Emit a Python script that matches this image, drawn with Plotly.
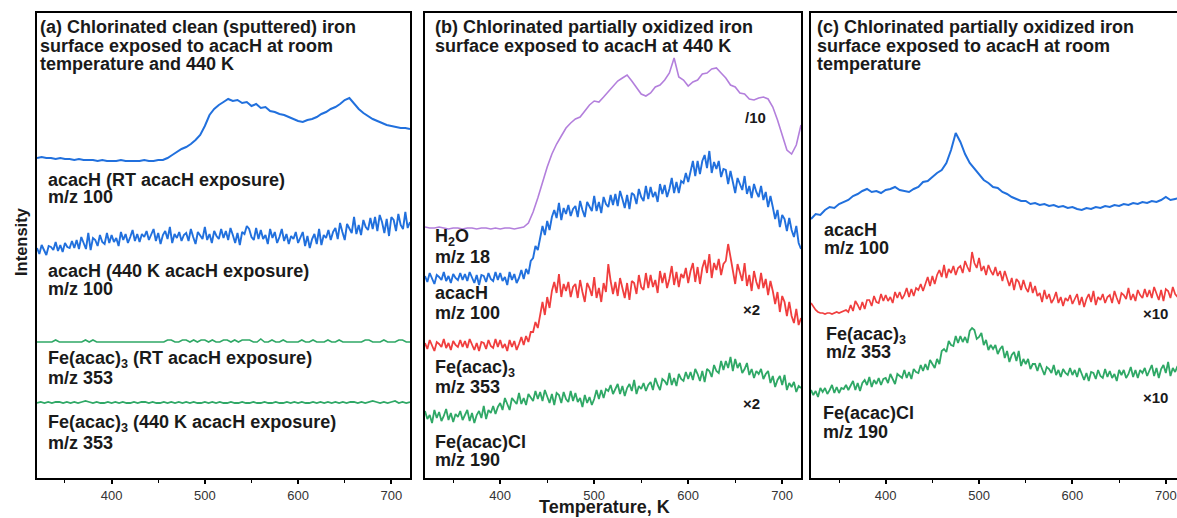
import plotly.graph_objects as go

# ---------------- data (heights above each panel's baseline, arbitrary units) ----------------
T25 = [320 + 2.5 * i for i in range(161)]   # 2.5 K grid
T4 = list(range(320, 721, 4))              # 4 K grid
T5 = list(range(320, 721, 5))              # 5 K grid

# panel (a)
a_acacH_RT = [
    320, 321, 320, 320, 319, 320, 319, 319, 318, 319,
    318, 318, 318, 317, 318, 317, 317, 317, 318, 317,
    317, 317, 317, 318, 317, 317, 318, 318, 320, 323,
    326, 329, 331, 334, 338, 343, 352, 363, 369, 373,
    376, 379, 377, 378, 375, 376, 372, 374, 370, 371,
    367, 366, 364, 363, 361, 359, 357, 356, 358, 359,
    361, 364, 366, 369, 371, 374, 378, 380, 374, 369,
    365, 362, 359, 357, 355, 353, 352, 351, 350, 350,
    349]
a_acacH_440 = [
    230, 224, 233, 228, 223, 232, 231, 228, 236, 227, 233, 226, 235, 231, 230, 237,
    230, 238, 229, 241, 235, 229, 245, 228, 240, 238, 232, 243, 236, 234, 245, 235,
    243, 236, 240, 232, 246, 238, 244, 235, 241, 248, 237, 244, 236, 244, 241, 247,
    238, 244, 249, 237, 245, 234, 243, 247, 239, 251, 235, 244, 240, 246, 237, 243,
    245, 237, 249, 241, 234, 246, 243, 239, 251, 238, 244, 235, 247, 242, 239, 249,
    240, 247, 238, 250, 243, 235, 245, 233, 246, 244, 252, 249, 241, 238, 250, 239,
    248, 239, 243, 234, 249, 240, 246, 235, 241, 249, 237, 244, 234, 242, 239, 246,
    235, 241, 246, 232, 242, 230, 239, 244, 234, 249, 233, 243, 240, 248, 238, 246,
    250, 239, 255, 246, 238, 254, 250, 245, 261, 244, 253, 243, 258, 251, 248, 260,
    249, 261, 247, 263, 256, 245, 259, 242, 261, 258, 247, 264, 253, 249, 266, 250,
    256]
a_feacac3_RT = [
    136, 136, 136, 136, 136, 138, 136, 136, 136, 136,
    136, 136, 136, 138, 136, 138, 136, 136, 136, 136,
    136, 136, 136, 136, 136, 136, 136, 136, 136, 136,
    136, 136, 136, 136, 136, 138, 138, 136, 136, 138,
    138, 136, 138, 136, 138, 138, 136, 138, 136, 136,
    138, 138, 136, 138, 136, 138, 138, 138, 136, 136,
    139, 136, 136, 138, 136, 136, 138, 136, 136, 136,
    136, 138, 136, 136, 138, 136, 136, 136, 138, 136,
    136, 138, 136, 136, 136, 136, 136, 136, 138, 138,
    136, 136, 136, 138, 136, 136, 136, 138, 138, 136,
    136]
a_feacac3_440 = [
    75, 76, 75, 76, 75, 76, 76, 75, 76, 75,
    76, 75, 76, 77, 76, 75, 76, 75, 75, 76,
    75, 76, 75, 76, 75, 75, 76, 75, 76, 76,
    75, 76, 75, 75, 76, 75, 76, 75, 76, 75,
    76, 75, 76, 75, 75, 76, 75, 76, 75, 76,
    75, 75, 76, 75, 75, 76, 75, 75, 76, 75,
    75, 76, 75, 75, 76, 75, 75, 76, 75, 76,
    75, 76, 75, 75, 76, 75, 76, 75, 76, 75,
    76, 75, 76, 75, 76, 76, 75, 76, 75, 76,
    77, 76, 75, 76, 75, 76, 77, 75, 76, 75,
    76]

# panel (b)
b_h2o = [
    251, 250, 250, 251, 250, 249, 250, 250, 249, 250,
    250, 249, 250, 250, 249, 250, 249, 250, 250, 249,
    250, 251, 255, 266, 280, 296, 311, 324, 334, 342,
    350, 355, 359, 361, 367, 373, 377, 376, 381, 386,
    391, 397, 400, 403, 397, 391, 384, 382, 385, 391,
    393, 398, 405, 420, 401, 398, 392, 396, 398, 404,
    405, 409, 410, 405, 400, 393, 391, 385, 384, 379,
    378, 380, 381, 379, 371, 358, 344, 328, 324, 333,
    353]
b_acacH = [
    202, 196, 205, 199, 194, 203, 201, 198, 206, 197, 202, 195, 204, 200, 198, 205,
    198, 204, 197, 206, 201, 195, 203, 193, 203, 202, 196, 205, 199, 197, 206, 198,
    205, 197, 201, 193, 206, 198, 204, 195, 200, 208, 199, 209, 204, 217, 220, 232,
    228, 242, 252, 243, 257, 248, 261, 268, 260, 275, 258, 270, 264, 273, 262, 269,
    272, 261, 277, 268, 261, 276, 272, 267, 282, 267, 276, 265, 281, 274, 271, 283,
    273, 284, 272, 287, 279, 270, 283, 269, 285, 283, 274, 289, 281, 277, 292, 279,
    291, 281, 286, 276, 294, 284, 293, 281, 289, 300, 285, 296, 285, 297, 295, 305,
    296, 308, 317, 302, 317, 304, 317, 323, 310, 327, 305, 316, 309, 317, 301, 309,
    308, 294, 307, 296, 285, 300, 294, 288, 302, 284, 292, 280, 294, 286, 281, 292,
    278, 286, 271, 282, 271, 259, 268, 251, 263, 259, 247, 260, 248, 241, 252, 235,
    229]
b_feacac3 = [
    135, 129, 138, 132, 127, 136, 134, 131, 139, 130, 135, 128, 137, 133, 131, 138,
    131, 137, 130, 139, 134, 128, 135, 127, 136, 135, 129, 138, 132, 130, 139, 131,
    138, 130, 134, 127, 138, 131, 137, 128, 134, 141, 133, 142, 136, 146, 146, 156,
    150, 164, 176, 163, 181, 170, 187, 196, 185, 204, 181, 194, 187, 196, 181, 191,
    194, 180, 198, 186, 176, 195, 190, 182, 201, 180, 190, 176, 195, 186, 214, 197,
    184, 196, 182, 200, 191, 180, 195, 178, 197, 195, 184, 203, 191, 188, 205, 190,
    203, 191, 198, 185, 207, 195, 205, 190, 199, 212, 193, 206, 191, 204, 200, 210,
    195, 207, 215, 196, 211, 194, 210, 218, 205, 224, 200, 215, 208, 219, 203, 214,
    217, 234, 221, 207, 194, 214, 206, 197, 215, 192, 203, 187, 207, 196, 189, 205,
    190, 199, 183, 197, 187, 174, 186, 166, 182, 176, 162, 176, 162, 155, 169, 153,
    160]
b_feacacCl = [
    67, 59, 63, 55, 68, 60, 66, 57, 62, 69, 58, 65, 56, 64, 61, 67,
    58, 64, 68, 57, 65, 55, 63, 67, 60, 72, 59, 68, 65, 72, 64, 71,
    75, 68, 80, 74, 68, 80, 77, 74, 85, 74, 80, 73, 84, 80, 77, 87,
    79, 86, 77, 88, 82, 75, 84, 73, 85, 83, 75, 86, 79, 76, 87, 77,
    85, 76, 80, 71, 83, 75, 81, 73, 79, 88, 79, 88, 80, 89, 87, 93,
    84, 90, 94, 84, 92, 82, 90, 94, 87, 98, 84, 92, 89, 95, 87, 93,
    96, 88, 100, 93, 88, 99, 97, 93, 105, 93, 100, 92, 104, 99, 97, 106,
    99, 106, 98, 109, 104, 97, 107, 96, 109, 107, 101, 113, 107, 105, 117, 108,
    117, 110, 121, 107, 119, 110, 115, 105, 109, 115, 103, 109, 100, 107, 104, 109,
    99, 104, 107, 95, 102, 91, 98, 102, 93, 103, 88, 95, 91, 96, 86, 92,
    90]

# panel (c)
c_acacH = [
    259, 264, 263, 268, 271, 270, 274, 276, 278, 282,
    284, 287, 289, 286, 287, 285, 288, 289, 291, 288,
    287, 286, 289, 291, 296, 297, 301, 305, 308, 315,
    328, 345, 336, 324, 315, 309, 303, 298, 295, 291,
    290, 286, 284, 281, 279, 277, 277, 274, 275, 273,
    274, 272, 273, 271, 272, 270, 271, 269, 268, 270,
    269, 271, 270, 272, 271, 273, 272, 274, 273, 275,
    274, 276, 275, 277, 276, 278, 281, 278, 279, 280,
    279]
c_feacac3 = [
    175, 171, 168, 166, 165, 165, 164, 165, 165, 164, 165, 166, 165, 166, 167, 168,
    166, 173, 167, 177, 173, 168, 176, 169, 178, 178, 172, 182, 176, 175, 184, 177,
    183, 177, 181, 175, 186, 180, 186, 179, 183, 190, 181, 189, 182, 190, 188, 194,
    187, 195, 201, 192, 202, 194, 203, 208, 201, 213, 200, 209, 205, 212, 203, 210,
    212, 205, 217, 211, 206, 226, 215, 210, 220, 207, 212, 203, 213, 207, 203, 211,
    202, 207, 197, 207, 200, 192, 200, 188, 199, 196, 188, 198, 190, 186, 196, 185,
    192, 182, 185, 176, 188, 179, 184, 175, 179, 186, 175, 181, 172, 180, 177, 183,
    174, 180, 184, 173, 181, 171, 179, 184, 176, 187, 173, 181, 178, 184, 175, 181,
    183, 175, 187, 180, 174, 185, 183, 179, 190, 178, 184, 177, 188, 183, 180, 189,
    181, 188, 180, 191, 185, 178, 188, 177, 189, 187, 180, 191, 184, 181, 192, 182,
    186]
c_feacacCl = [
    88, 83, 87, 81, 90, 86, 90, 84, 88, 93, 85, 91, 85, 90, 89, 93,
    88, 93, 97, 88, 95, 87, 95, 98, 93, 101, 91, 98, 94, 100, 93, 99,
    100, 95, 104, 99, 94, 104, 102, 100, 108, 100, 106, 99, 109, 106, 105, 113,
    107, 114, 108, 118, 114, 110, 119, 114, 127, 129, 126, 137, 133, 132, 142, 135,
    142, 136, 141, 135, 147, 150, 148, 139, 141, 145, 133, 138, 128, 133, 129, 133,
    124, 129, 132, 120, 127, 116, 123, 126, 117, 127, 112, 119, 114, 119, 109, 114,
    114, 107, 115, 109, 103, 111, 109, 105, 113, 103, 108, 101, 109, 105, 103, 110,
    103, 108, 101, 110, 104, 98, 105, 97, 106, 105, 99, 108, 102, 100, 109, 101,
    107, 100, 104, 97, 108, 103, 108, 100, 104, 111, 101, 108, 100, 108, 105, 110,
    102, 108, 113, 102, 110, 100, 109, 113, 105, 116, 102, 110, 106, 112, 103, 109,
    107]

x_ticks = [400, 500, 600, 700]

# ---------------- styling ----------------
W, H = 1177, 518
BLUE, RED, GREEN, PURPLE = "#2170dd", "#f03e3e", "#2fa866", "#b37fdc"
TXT = "#1a1a1a"
FONT = "Liberation Sans, Arial, sans-serif"

traces = [
    (T5, a_acacH_RT, BLUE, 2.0, "x", "y"),
    (T25, a_acacH_440, BLUE, 1.9, "x", "y"),
    (T4, a_feacac3_RT, GREEN, 1.6, "x", "y"),
    (T4, a_feacac3_440, GREEN, 1.8, "x", "y"),
    (T5, b_h2o, PURPLE, 1.6, "x2", "y2"),
    (T25, b_acacH, BLUE, 1.9, "x2", "y2"),
    (T25, b_feacac3, RED, 1.8, "x2", "y2"),
    (T25, b_feacacCl, GREEN, 1.8, "x2", "y2"),
    (T5, c_acacH, BLUE, 2.0, "x3", "y3"),
    (T25, c_feacac3, RED, 1.7, "x3", "y3"),
    (T25, c_feacacCl, GREEN, 1.8, "x3", "y3"),
]

fig = go.Figure()
for xs, ys, col, lw, xa, ya in traces:
    fig.add_trace(go.Scatter(x=xs, y=ys, mode="lines", xaxis=xa, yaxis=ya,
                             line=dict(color=col, width=lw), showlegend=False,
                             hoverinfo="skip"))

def px(v):
    return v / W

def py(v):
    return 1 - v / H

y_dom = [py(478), py(13)]
xdoms = {"xaxis": [px(37), px(410)], "xaxis2": [px(425), px(801)], "xaxis3": [px(811), 1.0]}
xranges = {"xaxis": [320, 720], "xaxis2": [320, 720], "xaxis3": [320, 712]}

layout = dict(width=W, height=H, margin=dict(l=0, r=0, t=0, b=0),
              paper_bgcolor="white", plot_bgcolor="white",
              font=dict(family=FONT, color=TXT))
for i, key in enumerate(["xaxis", "xaxis2", "xaxis3"]):
    yk = "yaxis" if i == 0 else f"yaxis{i+1}"
    layout[key] = dict(domain=xdoms[key], range=xranges[key], anchor="y" if i == 0 else f"y{i+1}",
                       showgrid=False, zeroline=False, showline=True, mirror=True,
                       linecolor="black", linewidth=2, ticks="outside", ticklen=4,
                       tickwidth=1.5, tickcolor="black", tickvals=x_ticks,
                       tickfont=dict(size=13, color="#333333", family=FONT),
                       minor=dict(ticks="outside", ticklen=3, tickwidth=1.2,
                                  tickcolor="black", dtick=50, tick0=0),
                       fixedrange=True)
    layout[yk] = dict(domain=y_dom, range=[0, 465], anchor="x" if i == 0 else f"x{i+1}",
                      showgrid=False, zeroline=False, showticklabels=False, ticks="",
                      showline=True, mirror=(i < 2), linecolor="black", linewidth=2,
                      fixedrange=True)
fig.update_layout(**layout)

ann = []
def label(x, y, text, size=18):
    ann.append(dict(x=px(x), y=py(y), xref="paper", yref="paper", text=f"<b>{text}</b>",
                    showarrow=False, xanchor="left", yanchor="middle",
                    font=dict(size=size, color=TXT, family=FONT)))

# panel (a)
label(38, 27, "(a) Chlorinated clean (sputtered) iron")
label(38, 46, "surface exposed to acacH at room")
label(38, 64, "temperature and 440 K")
label(46, 180, "acacH (RT acacH exposure)")
label(46, 197, "m/z 100")
label(46, 271, "acacH (440 K acacH exposure)")
label(46, 289, "m/z 100")
label(46, 359, "Fe(acac)<sub>3</sub> (RT acacH exposure)")
label(46, 378, "m/z 353")
label(46, 423, "Fe(acac)<sub>3</sub> (440 K acacH exposure)")
label(46, 443, "m/z 353")
# panel (b)
label(433, 27, "(b) Chlorinated partially oxidized iron")
label(433, 46, "surface exposed to acacH at 440 K")
label(433, 238, "H<sub>2</sub>O")
label(433, 257, "m/z 18")
label(433, 293, "acacH")
label(433, 313, "m/z 100")
label(433, 368, "Fe(acac)<sub>3</sub>")
label(433, 387, "m/z 353")
label(433, 442, "Fe(acac)Cl")
label(433, 460, "m/z 190")
label(743, 117, "/10", size=15)
label(741, 309, "×2", size=15)
label(741, 403, "×2", size=15)
# panel (c)
label(815, 27, "(c) Chlorinated partially oxidized iron")
label(815, 46, "surface exposed to acacH at room")
label(815, 64, "temperature")
label(822, 230, "acacH")
label(822, 248, "m/z 100")
label(824, 335, "Fe(acac)<sub>3</sub>")
label(824, 352, "m/z 353")
label(821, 413, "Fe(acac)Cl")
label(821, 432, "m/z 190")
label(1141, 313, "×10", size=15)
label(1141, 397, "×10", size=15)

# axis titles
ann.append(dict(x=px(604), y=py(507), xref="paper", yref="paper", text="<b>Temperature, K</b>",
                showarrow=False, xanchor="center", yanchor="middle",
                font=dict(size=18, color=TXT, family=FONT)))
ann.append(dict(x=px(21), y=py(242), xref="paper", yref="paper", text="<b>Intensity</b>", textangle=-90,
                showarrow=False, xanchor="center", yanchor="middle",
                font=dict(size=16.5, color=TXT, family=FONT)))

fig.update_layout(annotations=ann)
fig.write_html("out.html")
